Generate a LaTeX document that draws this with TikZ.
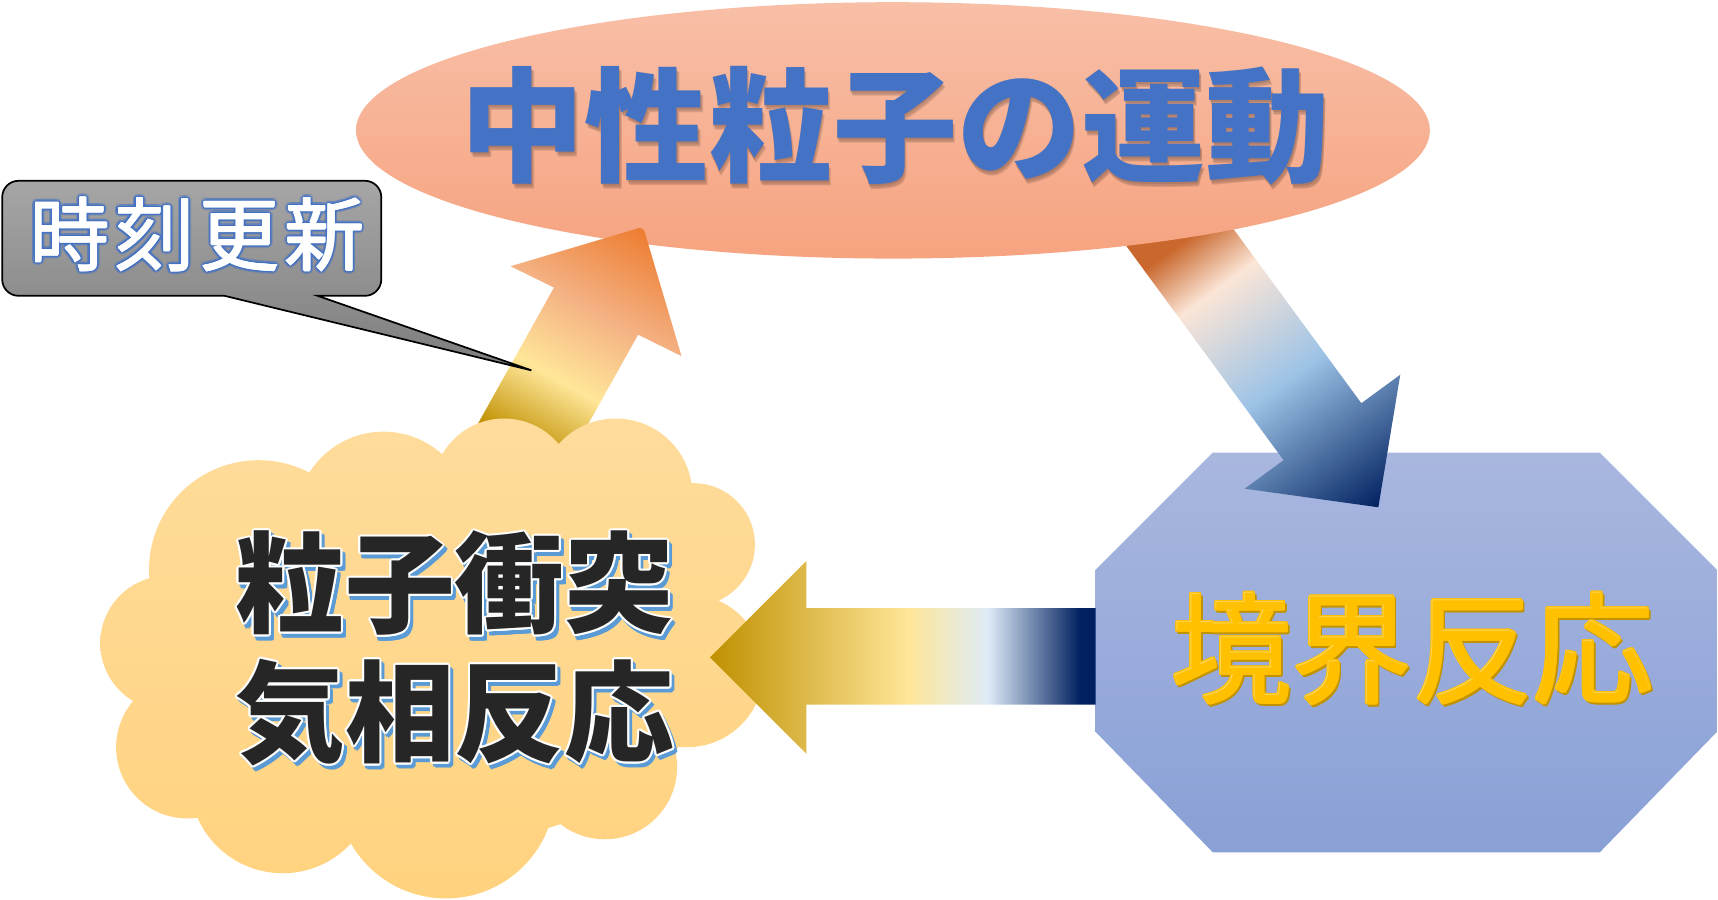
\documentclass[tikz,border=0pt]{standalone}
\usepackage{fontspec}
\newfontfamily\jp{Noto Sans CJK JP}
\newfontfamily\jpsp[LetterSpace=6]{Noto Sans CJK JP}
\usetikzlibrary{calc}
\definecolor{elltop}{HTML}{F8BFA7}
\definecolor{ellbot}{HTML}{F6A380}
\definecolor{titleblue}{HTML}{4472C4}
\definecolor{calltop}{HTML}{A6A6A6}
\definecolor{callbot}{HTML}{7D7D7D}
\definecolor{cloudtop}{HTML}{FFDC9C}
\definecolor{cloudbot}{HTML}{FFD27E}
\definecolor{darktxt}{HTML}{262626}
\definecolor{shblue}{HTML}{5B9BD5}
\definecolor{octtop}{HTML}{A9B7DF}
\definecolor{octbot}{HTML}{89A0D6}
\definecolor{octtxt}{HTML}{FFC000}
\definecolor{octdark}{HTML}{C29300}
\definecolor{octlight}{HTML}{FFE48C}
\definecolor{agold}{HTML}{BF9000}
\definecolor{ayellow}{HTML}{FFE699}
\definecolor{apeach}{HTML}{F4B183}
\definecolor{aorange}{HTML}{ED7D31}
\definecolor{adorange}{HTML}{C9672C}
\definecolor{alpeach}{HTML}{FBE5D6}
\definecolor{alblue}{HTML}{9DC3E6}
\definecolor{allblue}{HTML}{DEEBF7}
\definecolor{anavy}{HTML}{002060}
\pgfdeclarehorizontalshading{upsh}{100bp}{color(0bp)=(agold); color(34bp)=(agold); color(46.5bp)=(ayellow); color(59.5bp)=(apeach); color(75bp)=(aorange); color(100bp)=(aorange)}
\pgfdeclarehorizontalshading{dnsh}{100bp}{color(0bp)=(adorange); color(31bp)=(adorange); color(38.8bp)=(alpeach); color(54bp)=(alblue); color(75bp)=(anavy); color(100bp)=(anavy)}
\pgfdeclarehorizontalshading{ltsh}{100bp}{color(0bp)=(agold); color(25bp)=(agold); color(50.8bp)=(ayellow); color(61bp)=(allblue); color(73bp)=(anavy); color(100bp)=(anavy)}
\tikzset{
  titletxt/.style={inner sep=0pt,font={\jp\bfseries\fontsize{32.2pt}{33pt}\selectfont}},
  calltxt/.style={inner sep=0pt,font={\jpsp\fontsize{20.8pt}{22pt}\selectfont}},
  cloudtxt/.style={inner sep=0pt,align=center,font={\jp\bfseries\fontsize{28.45pt}{33.4pt}\selectfont}},
  octtxtsty/.style={inner sep=0pt,font={\jp\fontsize{31.3pt}{32pt}\selectfont}}
}
\begin{document}
\begin{tikzpicture}[x=0.01cm,y=-0.01cm]
\useasboundingbox (0,0) rectangle (1568,821);
\fill[white] (0,0) rectangle (1568,821);
\clip (0,0) rectangle (1568,821);
% octagon
\shade[top color=octtop,bottom color=octbot] (1000,520) -- (1107,413) -- (1460,413) -- (1567,520) -- (1567,668) -- (1460,778) -- (1107,778) -- (1000,668) -- cycle;
% arrow: ellipse -> octagon
\begin{scope}
\clip (1019.5,213) -- (1171.5,420) -- (1136,446) -- (1258,463) -- (1278,342) -- (1242.5,368) -- (1090.5,161) -- cycle;
\begin{scope}[transform canvas={shift={(1055,187)},rotate=-53.8}]
\shade[shading=dnsh] (0,-120) rectangle (343,120);
\end{scope}
\end{scope}
% ellipse
\shade[top color=elltop,bottom color=ellbot] (815,119) ellipse [x radius=490,y radius=117];
% arrow: cloud -> ellipse
\begin{scope}
\clip (412.9,428.4) -- (505.6,262.5) -- (466,243) -- (587,207) -- (622,325) -- (582.4,305.5) -- (489.7,471.3) -- cycle;
\begin{scope}[transform canvas={shift={(451.3,449.9)},rotate=60.8}]
\shade[shading=upsh] (0,-120) rectangle (276,120);
\end{scope}
\end{scope}
% cloud
\shade[top color=cloudtop,bottom color=cloudbot]
 (236,520) circle (100)
 (350,474) circle (80)
 (460,447) circle (65)
 (562,452) circle (70)
 (633,497) circle (56)
 (627,612) circle (70)
 (552,700) circle (66)
 (407,720) circle (100)
 (258,712) circle (85)
 (171,682) circle (65)
 (153,587) circle (61.5)
 (400,600) ellipse [x radius=250,y radius=170];
% callout
\shade[top color=calltop,bottom color=callbot,draw=black,line width=0.45pt]
 (17,165) -- (333,165) arc[start angle=-90,end angle=0,radius=15] -- (348,255) arc[start angle=0,end angle=90,radius=15] -- (290,270) -- (485,338) -- (205,270) -- (17,270) arc[start angle=90,end angle=180,radius=15] -- (2,180) arc[start angle=180,end angle=270,radius=15] -- cycle;
% arrow: octagon -> cloud
\shade[shading=ltsh] (648,600) -- (736,512) -- (736,555) -- (1000,555) -- (1000,643) -- (736,643) -- (736,688) -- cycle;
% title text
\foreach \d in {1,2,3} \node[titletxt,text=black,opacity=0.10] at ($(817,115)+(\d*0.8,\d*1.3+0.5)$) {中性粒子の運動};
\node[titletxt,text=titleblue] (title) at (817,115) {中性粒子の運動};
% callout text
\foreach \a in {0,30,...,330} \node[calltxt,text=titleblue,opacity=0.3] at ($(180,214)+(\a:3.2)$) {時刻更新};
\foreach \a in {0,30,...,330} \node[calltxt,text=titleblue] at ($(180,214)+(\a:1.5)$) {時刻更新};
\foreach \a in {0,60,...,300} \node[calltxt,text=white] at ($(180,214)+(\a:0.5)$) {時刻更新};
\node[calltxt,text=white] (timetxt) at (180,214) {時刻更新};
% cloud text
\foreach \a in {0,45,...,315} \node[cloudtxt,text=shblue] at ($(415,592)+(3,3.5)+(\a:1.8)$) {粒子衝突\\気相反応};
\foreach \a in {0,30,...,330} \node[cloudtxt,text=white] at ($(415,592)+(\a:1.8)$) {粒子衝突\\気相反応};
\node[cloudtxt,text=darktxt] (ctext) at (415,592) {粒子衝突\\気相反応};
% octagon text
\foreach \a in {0,45,...,315} \node[octtxtsty,text=octdark] at ($(1289,592)+(1.6,2.2)+(\a:1.3)$) {境界反応};
\foreach \a in {0,45,...,315} \node[octtxtsty,text=octtxt] at ($(1289,592)+(\a:1.6)$) {境界反応};
\node[octtxtsty,text=octlight,opacity=0.6] at ($(1289,592)+(-0.7,-0.7)$) {境界反応};
\node[octtxtsty,text=octtxt] (otext) at (1289,592) {境界反応};
\end{tikzpicture}
\end{document}
